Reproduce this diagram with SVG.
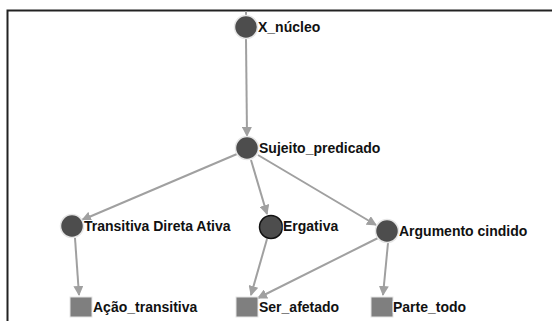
<svg xmlns="http://www.w3.org/2000/svg" width="552" height="321" viewBox="0 0 552 321">
<defs>
<marker id="arr" markerWidth="10" markerHeight="10" refX="9" refY="5" orient="auto" markerUnits="userSpaceOnUse">
<path d="M0,0 L10,5 L0,10 Z" fill="#a0a0a0"/>
</marker>
<style>
.e{stroke:#a0a0a0;stroke-width:2;fill:none}
.c{fill:#4d4d4d;stroke:#e6e6e6;stroke-width:1.5}
.ce{fill:#4d4d4d;stroke:#111;stroke-width:1.5}
.s{fill:#7f7f7f;stroke:#e6e6e6;stroke-width:1}
.t{font-family:"Liberation Sans",Arial,sans-serif;font-weight:bold;font-size:14px;fill:#111;paint-order:stroke;stroke:#fff;stroke-width:2}
</style>
</defs>
<rect width="552" height="321" fill="#fff"/>
<path d="M7.5,321 V10.5 H552" fill="none" stroke="#222" stroke-width="2"/>
<g id="edges">
<line class="e" x1="246" y1="11" x2="246" y2="16"/>
<line class="e" x1="246" y1="39" x2="247" y2="136" marker-end="url(#arr)"/>
<line class="e" x1="237" y1="154" x2="82" y2="220" marker-end="url(#arr)"/>
<line class="e" x1="251" y1="160" x2="267" y2="214" marker-end="url(#arr)"/>
<line class="e" x1="258" y1="155" x2="376" y2="225" marker-end="url(#arr)"/>
<line class="e" x1="75" y1="238" x2="79" y2="295" marker-end="url(#arr)"/>
<line class="e" x1="267" y1="239" x2="251" y2="295" marker-end="url(#arr)"/>
<line class="e" x1="378" y1="238" x2="258" y2="298" marker-end="url(#arr)"/>
<line class="e" x1="388" y1="243" x2="383" y2="295" marker-end="url(#arr)"/>
</g>
<g id="n_xnucleo"><circle class="c" cx="246" cy="27" r="11.5"/><text class="t" x="258" y="32">X_núcleo</text></g>
<g id="n_sujeito"><circle class="c" cx="247" cy="148" r="11.5"/><text class="t" x="259" y="153">Sujeito_predicado</text></g>
<g id="n_transitiva"><circle class="c" cx="72" cy="226" r="11.5"/><text class="t" x="84" y="231">Transitiva Direta Ativa</text></g>
<g id="n_ergativa"><circle class="ce" cx="271" cy="227" r="11.5"/><text class="t" x="283" y="231">Ergativa</text></g>
<g id="n_argumento"><circle class="c" cx="387" cy="231" r="11.5"/><text class="t" x="399" y="236">Argumento cindido</text></g>
<g id="n_acao"><rect class="s" x="70" y="297" width="22" height="20"/><text class="t" x="93" y="312">Ação_transitiva</text></g>
<g id="n_ser"><rect class="s" x="236" y="297" width="22" height="20"/><text class="t" x="259" y="312">Ser_afetado</text></g>
<g id="n_parte"><rect class="s" x="371" y="297" width="22" height="20"/><text class="t" x="393" y="312">Parte_todo</text></g>
</svg>
